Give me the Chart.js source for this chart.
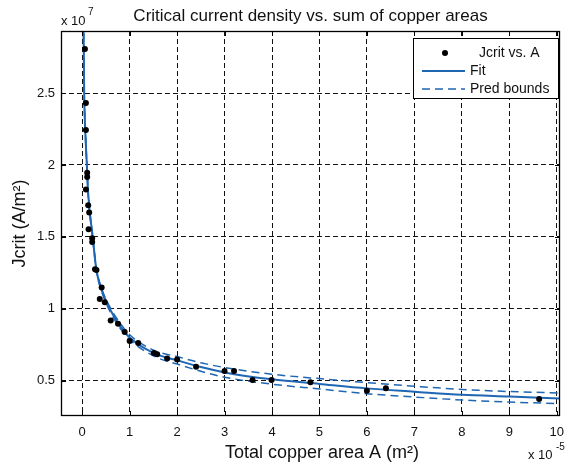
<!DOCTYPE html>
<html>
<head>
<meta charset="utf-8">
<script src="https://cdn.jsdelivr.net/npm/chart.js@4.4.1/dist/chart.umd.min.js"></script>
<style>
  html, body { margin: 0; padding: 0; background: #fff; }
  #wrap { width: 573px; height: 468px; }
</style>
</head>
<body>
<div id="wrap"><canvas id="chart" width="573" height="468"></canvas></div>
<script>
// values in axis units: A in 1e-5 m², Jcrit in 1e7 A/m²
const xTicks = [0, 1, 2, 3, 4, 5, 6, 7, 8, 9, 10];
const yTicks = [0.5, 1, 1.5, 2, 2.5];

const jcritA = [0.057, 0.078, 0.078, 0.105, 0.105, 0.078, 0.126, 0.147, 0.134, 0.21, 0.21,
  0.27, 0.30, 0.41, 0.37, 0.476, 0.60, 0.755, 0.895, 1.0, 1.18, 1.51, 1.58, 1.79, 2.0,
  2.40, 3.0, 3.2, 3.59, 3.99, 4.81, 6.0, 6.4, 9.63];
const jcritJ = [2.806, 2.43, 2.243, 1.946, 1.917, 1.83, 1.72, 1.67, 1.553, 1.49, 1.465,
  1.275, 1.27, 1.148, 1.068, 1.045, 0.919, 0.896, 0.838, 0.776, 0.762, 0.693, 0.684, 0.654, 0.648,
  0.597, 0.567, 0.567, 0.505, 0.505, 0.489, 0.431, 0.448, 0.374];

const curveA = [0.029, 0.042, 0.063, 0.092, 0.126, 0.218, 0.30, 0.40, 0.58, 0.80, 1.00,
  1.52, 2.00, 2.50, 3.00, 4.00, 5.00, 6.00, 7.00, 8.00, 9.00, 10.07];
const fitJ = [2.92, 2.50, 2.25, 2.04, 1.80, 1.507, 1.27, 1.14, 1.00, 0.88, 0.80,
  0.69, 0.642, 0.595, 0.558, 0.51, 0.478, 0.447, 0.424, 0.402, 0.39, 0.377];
const upperJ = [2.93, 2.51, 2.26, 2.05, 1.81, 1.515, 1.28, 1.15, 1.015, 0.90, 0.82,
  0.71, 0.668, 0.625, 0.592, 0.545, 0.515, 0.487, 0.462, 0.44, 0.425, 0.415];
const lowerJ = [2.91, 2.49, 2.24, 2.03, 1.79, 1.499, 1.26, 1.13, 0.985, 0.865, 0.785,
  0.67, 0.616, 0.566, 0.525, 0.476, 0.443, 0.41, 0.387, 0.366, 0.352, 0.341];

const FONT = "'Liberation Sans', Arial, Helvetica, sans-serif";
const BLUE = "#1f66b3";

const pts = (xs, ys) => xs.map((x, i) => ({ x, y: ys[i] }));

// MATLAB-ish frame: box, inward ticks, legend, title, labels
const matlabFrame = {
  id: "matlabFrame",
  afterDraw(chart) {
    const { ctx, chartArea: a, scales } = chart;
    ctx.save();

    // axes box
    ctx.strokeStyle = "#000";
    ctx.lineWidth = 1.3;
    ctx.setLineDash([]);
    ctx.strokeRect(a.left + 0.5, a.top + 0.5, a.right - a.left - 1, a.bottom - a.top - 1);

    // inward ticks
    ctx.lineWidth = 1;
    ctx.beginPath();
    xTicks.forEach((v) => {
      const px = Math.round(scales.x.getPixelForValue(v)) + 0.5;
      ctx.moveTo(px, a.bottom); ctx.lineTo(px, a.bottom - 5);
      ctx.moveTo(px, a.top); ctx.lineTo(px, a.top + 5);
    });
    yTicks.forEach((v) => {
      const py = Math.round(scales.y.getPixelForValue(v)) + 0.5;
      ctx.moveTo(a.left, py); ctx.lineTo(a.left + 5, py);
      ctx.moveTo(a.right, py); ctx.lineTo(a.right - 5, py);
    });
    ctx.stroke();

    // title
    ctx.fillStyle = "#111";
    ctx.textAlign = "center";
    ctx.textBaseline = "alphabetic";
    ctx.font = `17px ${FONT}`;
    ctx.fillText("Critical current density vs. sum of copper areas", (a.left + a.right) / 2, 21);

    // axis labels
    ctx.font = `18px ${FONT}`;
    ctx.fillText("Total copper area A (m²)", 322, 458);
    ctx.save();
    ctx.translate(25, (a.top + a.bottom) / 2);
    ctx.rotate(-Math.PI / 2);
    ctx.fillText("Jcrit (A/m²)", 0, 0);
    ctx.restore();

    // exponents
    ctx.textAlign = "left";
    ctx.font = `13px ${FONT}`;
    ctx.fillText("x 10", 61, 25);
    ctx.fillText("x 10", 528, 459);
    ctx.font = `10px ${FONT}`;
    ctx.fillText("7", 88, 15);
    ctx.fillText("-5", 556, 450);

    // legend
    const lx = 413, ly = 38, lw = 145, lh = 60;
    ctx.fillStyle = "#fff";
    ctx.fillRect(lx, ly, lw, lh);
    ctx.strokeStyle = "#000";
    ctx.lineWidth = 1;
    ctx.strokeRect(lx + 0.5, ly + 0.5, lw, lh);

    const ds = chart.data.datasets;
    const rows = [15, 33, 51];
    const textX = [479, 470, 470];
    ctx.font = `14px ${FONT}`;
    ctx.textBaseline = "middle";
    [ds[0], ds[1], ds[2]].forEach((d, i) => {
      const y = ly + rows[i];
      if (i === 0) {
        ctx.fillStyle = "#000";
        ctx.beginPath();
        ctx.arc(445, y, 3, 0, Math.PI * 2);
        ctx.fill();
      } else {
        ctx.strokeStyle = BLUE;
        ctx.lineWidth = d.borderWidth;
        ctx.setLineDash(d.borderDash || []);
        ctx.beginPath();
        ctx.moveTo(422, y); ctx.lineTo(465, y);
        ctx.stroke();
        ctx.setLineDash([]);
      }
      ctx.fillStyle = "#111";
      ctx.fillText(d.label, textX[i], y);
    });

    ctx.restore();
  },
};

new Chart(document.getElementById("chart"), {
  type: "scatter",
  data: {
    datasets: [
      {
        label: "Jcrit vs. A",
        data: pts(jcritA, jcritJ),
        pointRadius: 3,
        pointBackgroundColor: "#000",
        pointBorderWidth: 0,
        showLine: false,
        order: 0,
      },
      {
        label: "Fit",
        data: pts(curveA, fitJ),
        showLine: true,
        borderColor: BLUE,
        borderWidth: 2,
        pointRadius: 0,
        cubicInterpolationMode: "monotone",
        order: 1,
      },
      {
        label: "Pred bounds",
        data: pts(curveA, upperJ),
        showLine: true,
        borderColor: BLUE,
        borderWidth: 1.5,
        borderDash: [8, 5],
        pointRadius: 0,
        cubicInterpolationMode: "monotone",
        order: 2,
      },
      {
        label: "Pred bounds (lower)",
        data: pts(curveA, lowerJ),
        showLine: true,
        borderColor: BLUE,
        borderWidth: 1.5,
        borderDash: [8, 5],
        pointRadius: 0,
        cubicInterpolationMode: "monotone",
        order: 3,
      },
    ],
  },
  options: {
    responsive: false,
    animation: false,
    devicePixelRatio: 1,
    layout: { padding: { top: 31, right: 10, left: 0, bottom: 0 } },
    plugins: {
      legend: { display: false },
      tooltip: { enabled: false },
    },
    scales: {
      x: {
        type: "linear",
        min: -0.447,
        max: 10.07,
        afterBuildTicks: (s) => { s.ticks = xTicks.map((v) => ({ value: v })); },
        afterFit: (s) => { s.height = 52; },
        grid: { color: "#111", lineWidth: 1, drawTicks: false },
        border: { display: false, dash: [5, 3] },
        ticks: {
          color: "#111",
          padding: 9,
          maxRotation: 0,
          font: { family: FONT, size: 13 },
          callback: (v) => String(v),
        },
      },
      y: {
        type: "linear",
        min: 0.255,
        max: 2.931,
        afterBuildTicks: (s) => { s.ticks = yTicks.map((v) => ({ value: v })); },
        afterFit: (s) => { s.width = 61; },
        grid: { color: "#111", lineWidth: 1, drawTicks: false },
        border: { display: false, dash: [5, 3] },
        ticks: {
          color: "#111",
          padding: 6,
          font: { family: FONT, size: 13 },
          callback: (v) => String(v),
        },
      },
    },
  },
  plugins: [matlabFrame],
});
</script>
</body>
</html>
